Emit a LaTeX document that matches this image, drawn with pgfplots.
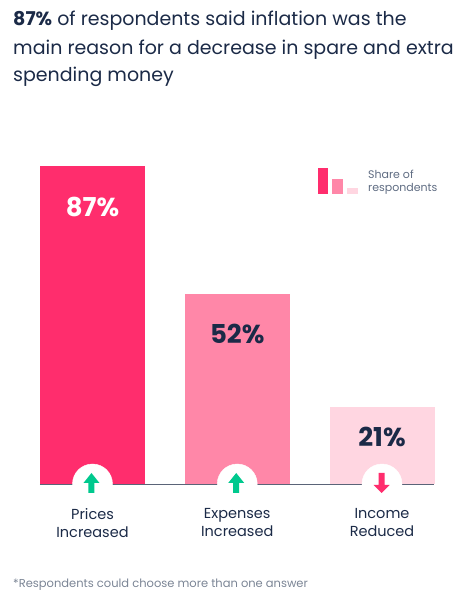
\documentclass[border=0pt]{standalone}
\usepackage{pgfplots}
\pgfplotsset{compat=1.18}
\usepackage{fontspec}
\setmainfont{Poppins}
\definecolor{navy}{HTML}{1B2A47}
\definecolor{barA}{HTML}{FF2D6D}
\definecolor{barB}{HTML}{FF87A8}
\definecolor{barC}{HTML}{FFD6E1}
\definecolor{upgreen}{HTML}{00C98E}
\definecolor{axgray}{HTML}{5A6478}
\definecolor{footgray}{HTML}{7B8595}
\definecolor{leggray}{HTML}{5F6C82}
\pgfdeclareplotmark{uparrow}{%
  \pgfpathmoveto{\pgfpoint{0pt}{11pt}}%
  \pgfpathlineto{\pgfpoint{8pt}{1pt}}%
  \pgfpathlineto{\pgfpoint{3pt}{1pt}}%
  \pgfpathlineto{\pgfpoint{3pt}{-9pt}}%
  \pgfpathlineto{\pgfpoint{-3pt}{-9pt}}%
  \pgfpathlineto{\pgfpoint{-3pt}{1pt}}%
  \pgfpathlineto{\pgfpoint{-8pt}{1pt}}%
  \pgfpathclose\pgfusepathqfill}
\pgfdeclareplotmark{downarrow}{%
  \pgfpathmoveto{\pgfpoint{0pt}{-9pt}}%
  \pgfpathlineto{\pgfpoint{8pt}{-1pt}}%
  \pgfpathlineto{\pgfpoint{3pt}{-1pt}}%
  \pgfpathlineto{\pgfpoint{3pt}{11pt}}%
  \pgfpathlineto{\pgfpoint{-3pt}{11pt}}%
  \pgfpathlineto{\pgfpoint{-3pt}{-1pt}}%
  \pgfpathlineto{\pgfpoint{-8pt}{-1pt}}%
  \pgfpathclose\pgfusepathqfill}
\begin{document}
\begin{tikzpicture}[x=1pt,y=1pt]
\path[use as bounding box] (0,0) rectangle (474,606);
% title
\begin{scope}[every node/.style={anchor=base west, inner sep=0, text=navy,
  font=\fontsize{19}{28}\selectfont}]
\node at (13,580) {\textbf{87\%} of respondents said inflation was the};
\node at (13,551) {main reason for a decrease in spare and extra};
\node at (13,524) {spending money};
\end{scope}
% legend
\fill[barA] (318,412) rectangle (328,438);
\fill[barB] (332,412) rectangle (343,427);
\fill[barC] (347,412) rectangle (358,418);
\node[anchor=base west, inner sep=0, text=leggray,
  font=\fontsize{11}{13}\selectfont] at (368,427) {Share of};
\node[anchor=base west, inner sep=0, text=leggray,
  font=\fontsize{11}{13}\selectfont] at (368,414) {respondents};
% footnote
\node[anchor=base west, inner sep=0, text=footgray,
  font=\fontsize{11.5}{14}\selectfont] at (13,19)
  {*Respondents could choose more than one answer};
\begin{axis}[
  at={(92.5pt,122pt)}, anchor=origin,
  x=144.75pt, y=3.655pt,
  xmin=-0.3627, xmax=2.359, ymin=0, ymax=90,
  clip=false,
  axis x line*=bottom, axis y line=none,
  x axis line style={draw=none},
  major tick length=0pt,
  xtick={0,1,2},
  xticklabels={{Prices\\Increased},{Expenses\\Increased},{Income\\Reduced}},
  xticklabel style={align=center, text=navy,
    font=\fontsize{14.5}{18}\selectfont, anchor=north, yshift=-21pt},
  ytick=\empty,
  /pgf/number format/assume math mode=true,
]
\addplot[ybar, bar shift=0pt, bar width=105pt, fill=barA, draw=none,
  nodes near coords={\pgfmathprintnumber{\pgfplotspointmeta}\%},
  every node near coord/.append style={anchor=center, yshift=-41pt,
    text=white, font=\fontsize{26}{30}\selectfont\bfseries}]
  coordinates {(0,87)};
\addplot[ybar, bar shift=0pt, bar width=105pt, fill=barB, draw=none,
  nodes near coords={\pgfmathprintnumber{\pgfplotspointmeta}\%},
  every node near coord/.append style={anchor=center, yshift=-40pt,
    text=navy, font=\fontsize{26}{30}\selectfont\bfseries}]
  coordinates {(1,52)};
\addplot[ybar, bar shift=0pt, bar width=105pt, fill=barC, draw=none,
  nodes near coords={\pgfmathprintnumber{\pgfplotspointmeta}\%},
  every node near coord/.append style={anchor=center, yshift=-30pt,
    text=navy, font=\fontsize{26}{30}\selectfont\bfseries}]
  coordinates {(2,21)};
% baseline
\addplot[axgray, line width=1.5pt] coordinates {(-0.3627,-0.2) (2.359,-0.2)};
% white circles
\addplot[only marks, mark=*, mark size=20pt, draw=white, fill=white,
  mark options={draw=white, fill=white}]
  coordinates {(0,0) (1,0) (2,0)};
% arrows
\addplot[only marks, mark=uparrow, mark options={fill=upgreen, draw=none}]
  coordinates {(-0.007,0) (0.993,0)};
\addplot[only marks, mark=downarrow, mark options={fill=barA, draw=none}]
  coordinates {(1.997,0)};
\end{axis}
\end{tikzpicture}
\end{document}
